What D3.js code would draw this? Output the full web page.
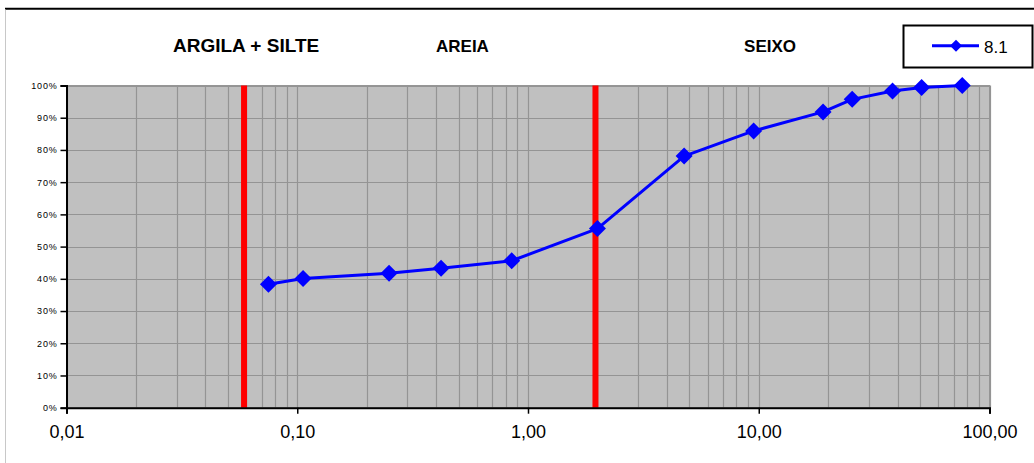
<!DOCTYPE html>
<html>
<head>
<meta charset="utf-8">
<script src="https://cdn.jsdelivr.net/npm/d3@7"></script>
<style>
  html, body { margin: 0; padding: 0; background: #fff; }
  svg { display: block; font-family: Arial, "Liberation Sans", sans-serif; }
</style>
</head>
<body>
<svg id="chart" width="1034" height="463"></svg>
<script>
// Grain-size distribution curve (sample 8.1)
const seriesName = "8.1";
const sieveSizes = [0.075, 0.106, 0.25, 0.42, 0.85, 2.0, 4.75, 9.5, 19, 25.4, 38, 50.8, 76.2];
const passing    = [0.383, 0.401, 0.417, 0.433, 0.456, 0.556, 0.781, 0.859, 0.918, 0.957, 0.983, 0.994, 1.0];

// Class boundaries (mm) and the class names shown above the plot
const boundaries = [0.06, 2.0];
const classNames = ["ARGILA + SILTE", "AREIA", "SEIXO"];
const classCenters = [0.06, 0.52, 11.2];
const classFontSizes = [19, 17, 17];

const xTickValues = [0.01, 0.1, 1, 10, 100];
const xTickLabels = ["0,01", "0,10", "1,00", "10,00", "100,00"];
const yTickValues = [0, 0.1, 0.2, 0.3, 0.4, 0.5, 0.6, 0.7, 0.8, 0.9, 1.0];

const svg = d3.select("#chart");

const plotLeft = 66.5, plotRight = 989.5, plotTop = 85.5, plotBottom = 407.7;

const x = d3.scaleLog().domain([0.01, 100]).range([plotLeft, plotRight]);
const y = d3.scaleLinear().domain([0, 1]).range([plotBottom, plotTop]);

// Outer frame fragments
svg.append("line").attr("x1", 5).attr("x2", 1034).attr("y1", 8.7).attr("y2", 8.7)
  .attr("stroke", "#000").attr("stroke-width", 2);
svg.append("line").attr("x1", 5.5).attr("x2", 5.5).attr("y1", 9.5).attr("y2", 463)
  .attr("stroke", "#c8c8c8").attr("stroke-width", 1);

// Plot background
svg.append("rect")
  .attr("x", plotLeft).attr("y", plotTop)
  .attr("width", plotRight - plotLeft).attr("height", plotBottom - plotTop)
  .attr("fill", "#c0c0c0")
  .attr("stroke", "#969696").attr("stroke-width", 1);

// Log-scale vertical grid (1..9 in each decade)
const gridX = [];
[0.01, 0.1, 1, 10].forEach(d => { for (let k = 1; k <= 9; k++) gridX.push(k * d); });
gridX.push(100);

svg.append("g").selectAll("line").data(gridX).join("line")
  .attr("x1", d => Math.round(x(d)) + 0.5).attr("x2", d => Math.round(x(d)) + 0.5)
  .attr("y1", plotTop).attr("y2", plotBottom)
  .attr("stroke", "#949494").attr("stroke-width", 1.2);

svg.append("g").selectAll("line").data(yTickValues).join("line")
  .attr("x1", plotLeft).attr("x2", plotRight)
  .attr("y1", d => Math.round(y(d)) + 0.5).attr("y2", d => Math.round(y(d)) + 0.5)
  .attr("stroke", "#949494").attr("stroke-width", 1.2);

// Class boundary lines
svg.append("g").selectAll("line").data(boundaries).join("line")
  .attr("x1", d => x(d) - 2).attr("x2", d => x(d) - 2)
  .attr("y1", plotTop).attr("y2", plotBottom)
  .attr("stroke", "#ff0000").attr("stroke-width", 6);

// Axes
const yAxis = d3.axisLeft(y).tickValues(yTickValues)
  .tickFormat(d3.format(".0%")).tickSize(6).tickPadding(3);
const gy = svg.append("g").attr("transform", `translate(${plotLeft},0)`).call(yAxis);
gy.select(".domain").attr("stroke", "#000").attr("stroke-width", 2);
gy.selectAll(".tick line").attr("stroke", "#000").attr("stroke-width", 1.5);
gy.selectAll(".tick text").attr("font-size", 9).attr("letter-spacing", 0.8)
  .attr("fill", "#000").attr("font-family", "Arial, 'Liberation Sans', sans-serif");

const xAxis = d3.axisBottom(x).tickValues(xTickValues)
  .tickFormat((d, i) => xTickLabels[i]).tickSize(6).tickPadding(12);
const gx = svg.append("g").attr("transform", `translate(0,${plotBottom})`).call(xAxis);
gx.select(".domain").attr("stroke", "#000").attr("stroke-width", 2);
gx.selectAll(".tick line").attr("stroke", "#000").attr("stroke-width", 1.5);
gx.selectAll(".tick text").attr("font-size", 18)
  .attr("fill", "#000").attr("font-family", "Arial, 'Liberation Sans', sans-serif");

// Class names
svg.append("g").selectAll("text").data(classNames).join("text")
  .attr("x", (d, i) => x(classCenters[i]))
  .attr("y", 52)
  .attr("text-anchor", "middle")
  .attr("font-weight", "bold")
  .attr("font-size", (d, i) => classFontSizes[i])
  .attr("fill", "#000")
  .text(d => d);

// Curve
const pts = sieveSizes.map((s, i) => [s, passing[i]]);
svg.append("path")
  .datum(pts)
  .attr("fill", "none")
  .attr("stroke", "#0000ff")
  .attr("stroke-width", 3)
  .attr("stroke-linejoin", "round")
  .attr("d", d3.line().x(d => x(d[0])).y(d => y(d[1])));

const diamond = (cx, cy, r) => `M${cx},${cy - r}L${cx + r},${cy}L${cx},${cy + r}L${cx - r},${cy}Z`;
svg.append("g").selectAll("path").data(pts).join("path")
  .attr("d", d => diamond(x(d[0]), y(d[1]), 8.5))
  .attr("fill", "#0000ff");

// Legend
const lg = svg.append("g");
lg.append("rect").attr("x", 903.5).attr("y", 25.5).attr("width", 129).attr("height", 42)
  .attr("fill", "#fff").attr("stroke", "#000").attr("stroke-width", 2);
lg.append("line").attr("x1", 932).attr("x2", 979).attr("y1", 45.7).attr("y2", 45.7)
  .attr("stroke", "#0000ff").attr("stroke-width", 3);
lg.append("path").attr("d", diamond(956, 45.7, 6)).attr("fill", "#0000ff");
lg.append("text").attr("x", 984).attr("y", 53).attr("font-size", 17).attr("fill", "#000")
  .text(seriesName);
</script>
</body>
</html>
